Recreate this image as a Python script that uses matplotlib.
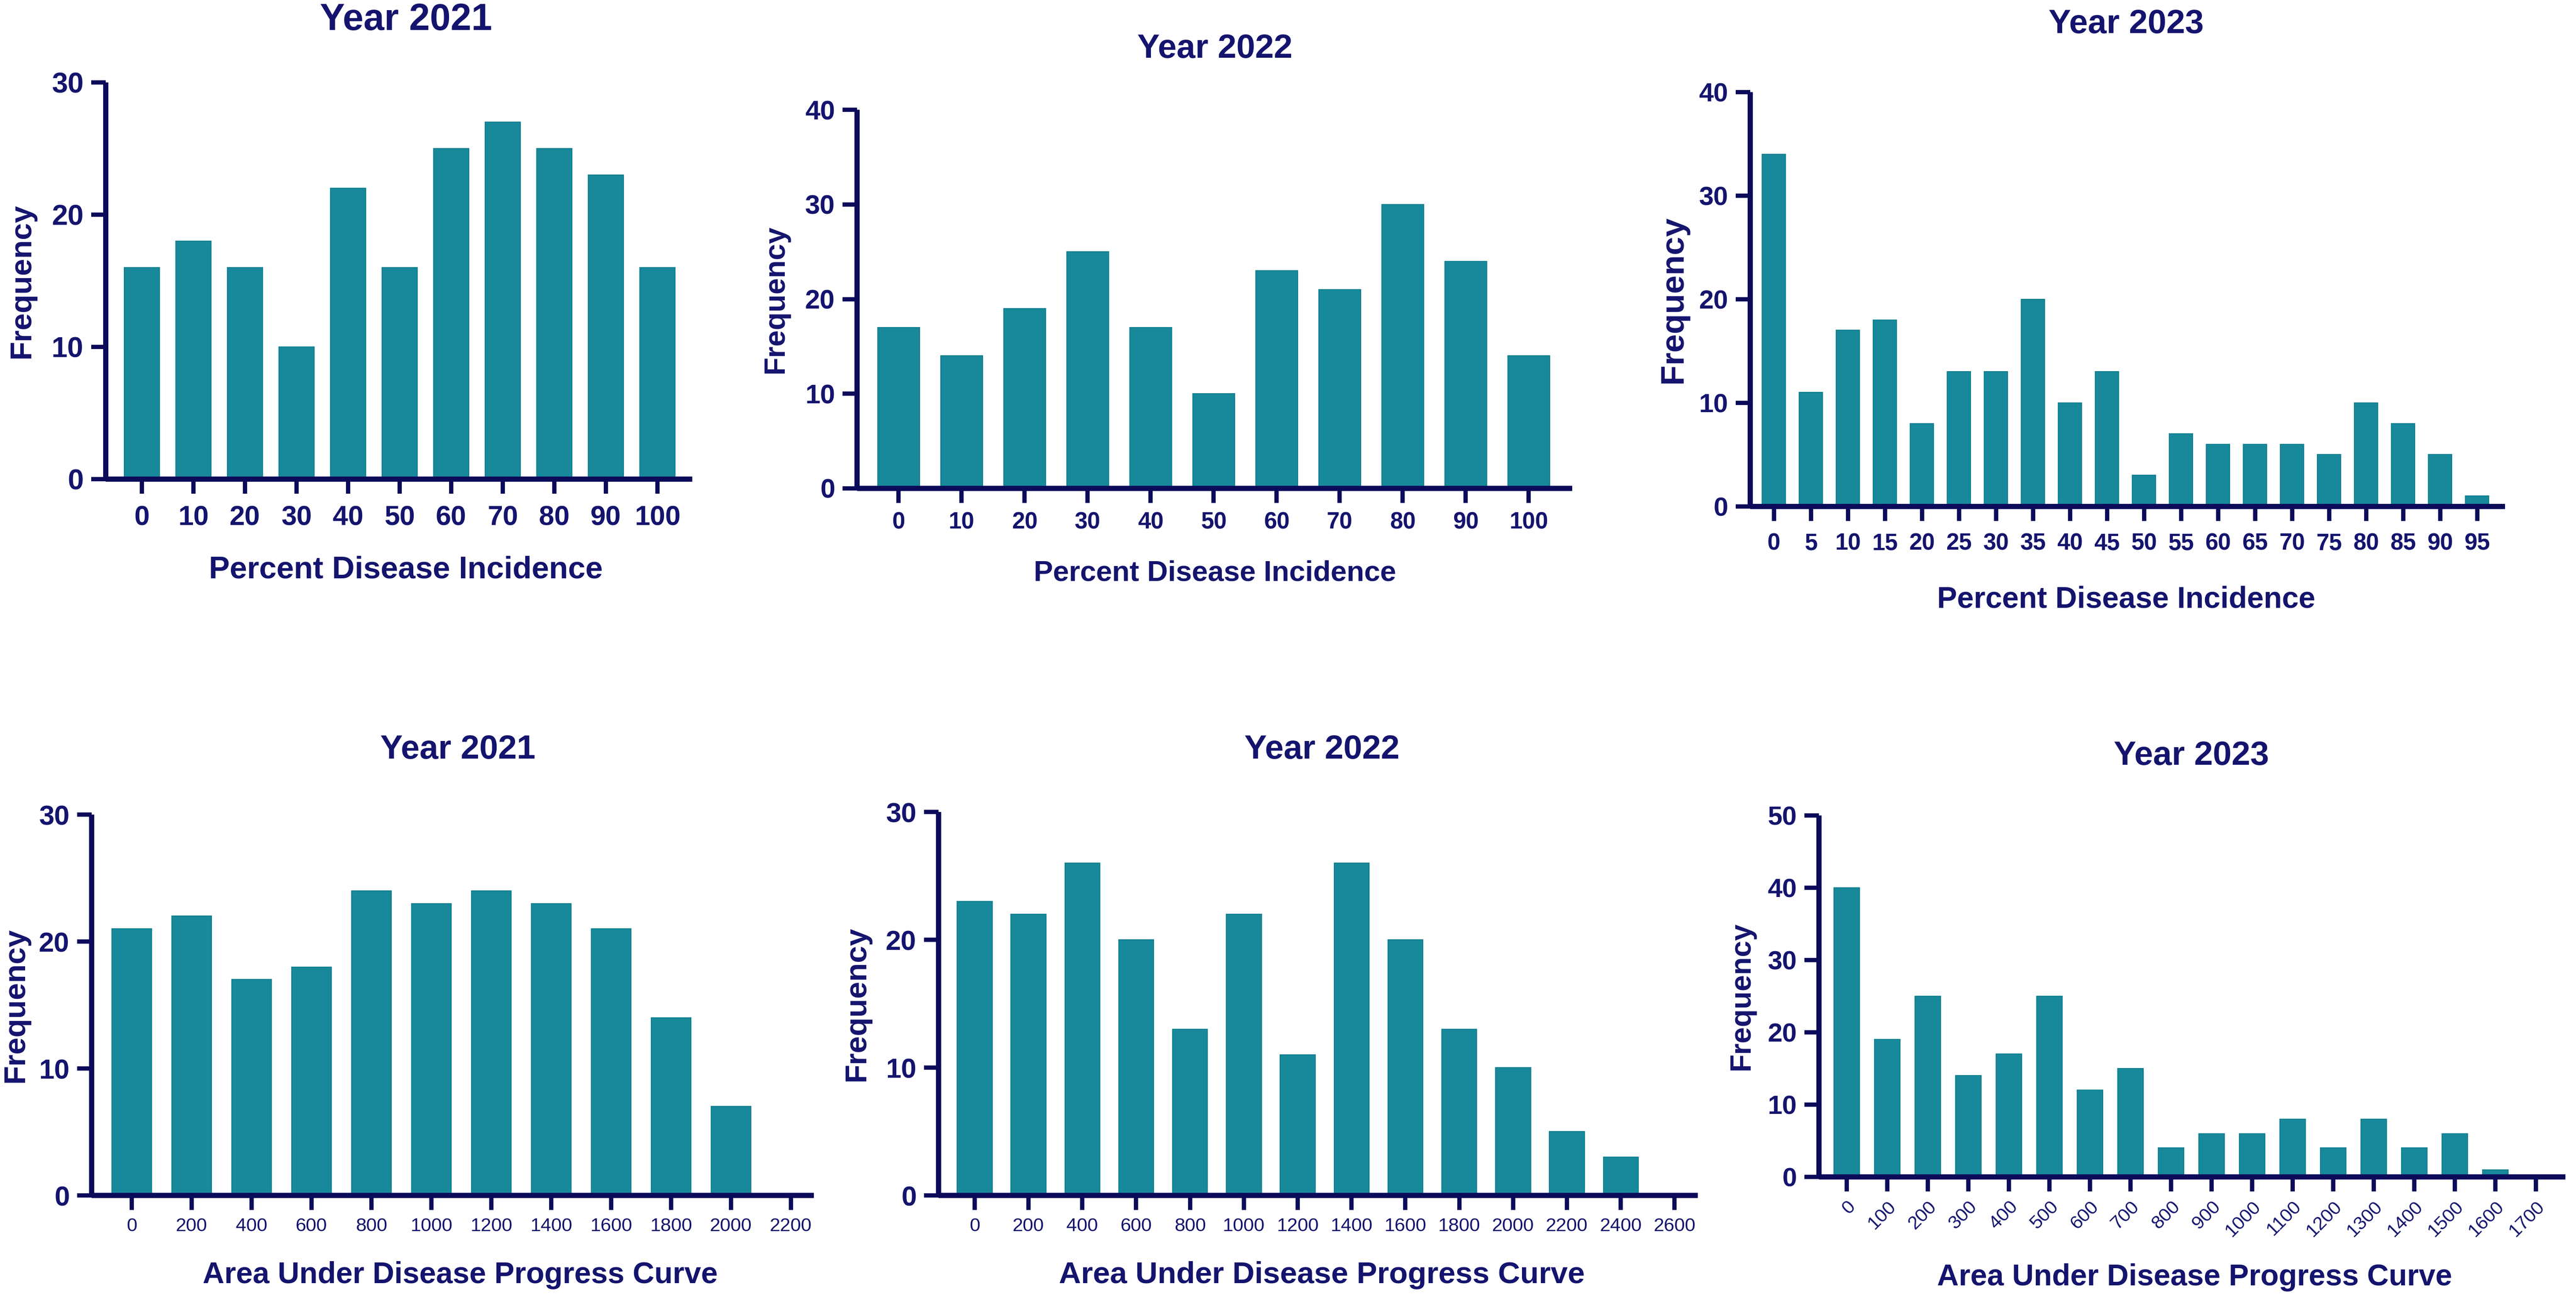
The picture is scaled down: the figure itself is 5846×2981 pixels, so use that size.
import numpy as np
import matplotlib.pyplot as plt

# --- data ---
pdi_bins_2021 = [0, 10, 20, 30, 40, 50, 60, 70, 80, 90, 100]
pdi_freq_2021 = [16, 18, 16, 10, 22, 16, 25, 27, 25, 23, 16]

pdi_bins_2022 = [0, 10, 20, 30, 40, 50, 60, 70, 80, 90, 100]
pdi_freq_2022 = [17, 14, 19, 25, 17, 10, 23, 21, 30, 24, 14]

pdi_bins_2023 = list(range(0, 100, 5))
pdi_freq_2023 = [34, 11, 17, 18, 8, 13, 13, 20, 10, 13, 3, 7, 6, 6, 6, 5, 10, 8, 5, 1]

audpc_bins_2021 = list(range(0, 2400, 200))
audpc_freq_2021 = [21, 22, 17, 18, 24, 23, 24, 23, 21, 14, 7, 0]

audpc_bins_2022 = list(range(0, 2800, 200))
audpc_freq_2022 = [23, 22, 26, 20, 13, 22, 11, 26, 20, 13, 10, 5, 3, 0]

audpc_bins_2023 = list(range(0, 1800, 100))
audpc_freq_2023 = [40, 19, 25, 14, 17, 25, 12, 15, 4, 6, 6, 8, 4, 8, 4, 6, 1, 0]

years = ["Year 2021", "Year 2022", "Year 2023"]
pdi_label = "Percent Disease Incidence"
audpc_label = "Area Under Disease Progress Curve"

W, H = 5846, 2981
fig = plt.figure(figsize=(W / 100, H / 100), dpi=100)

text_col = '#14146e'
axis_col = '#0b0b5a'
bar_col = '#17899a'
FONT = ['Liberation Sans', 'DejaVu Sans']
NARROW = ['Liberation Sans Narrow', 'Liberation Sans', 'DejaVu Sans']

# layout in pixels: left, bottom(from top), spacing, xlim, ytop, height
panels = [
    dict(bins=pdi_bins_2021, freq=pdi_freq_2021, title=years[0], xlabel=pdi_label,
         left=240, bottom=1087, sp=117, xlim=(-0.70, 10.68), ytop=30, height=900, bw=0.69,
         title_xy=(921, 46), xlab_xy=(921, 1293), ylab_x=49,
         fs=dict(title=61, xlab=51, ylab=50, yt=47, xt=45), xpad=18, xfont=FONT, xw='bold', rot=0),
    dict(bins=pdi_bins_2022, freq=pdi_freq_2022, title=years[1], xlabel=pdi_label,
         left=1945, bottom=1108, sp=143, xlim=(-0.66, 10.69), ytop=40, height=859, bw=0.66,
         title_xy=(2757, 111), xlab_xy=(2757, 1300), ylab_x=1760,
         fs=dict(title=55, xlab=47, ylab=48, yt=44, xt=38), xpad=14, xfont=NARROW, xw='bold', rot=0),
    dict(bins=pdi_bins_2023, freq=pdi_freq_2023, title=years[2], xlabel=pdi_label,
         left=3972, bottom=1149, sp=84, xlim=(-0.64, 19.75), ytop=40, height=940, bw=0.63,
         title_xy=(4825, 56), xlab_xy=(4825, 1361), ylab_x=3797,
         fs=dict(title=55, xlab=49, ylab=54, yt=43, xt=38), xpad=19, xfont=NARROW, xw='bold', rot=0),
    dict(bins=audpc_bins_2021, freq=audpc_freq_2021, title=years[0], xlabel=audpc_label,
         left=208, bottom=2712, sp=136, xlim=(-0.67, 11.38), ytop=30, height=864, bw=0.66,
         title_xy=(1039, 1701), xlab_xy=(1044, 2893), ylab_x=35,
         fs=dict(title=55, xlab=49, ylab=50, yt=45, xt=31), xpad=12, xfont=NARROW, xw='normal', rot=0),
    dict(bins=audpc_bins_2022, freq=audpc_freq_2022, title=years[1], xlabel=audpc_label,
         left=2130, bottom=2712, sp=122.2, xlim=(-0.67, 13.43), ytop=30, height=870, bw=0.65,
         title_xy=(3000, 1701), xlab_xy=(3000, 2893), ylab_x=1944,
         fs=dict(title=55, xlab=50, ylab=50, yt=45, xt=31), xpad=12, xfont=NARROW, xw='normal', rot=0),
    dict(bins=audpc_bins_2023, freq=audpc_freq_2023, title=years[2], xlabel=audpc_label,
         left=4128, bottom=2670, sp=92, xlim=(-0.68, 17.73), ytop=50, height=820, bw=0.63,
         title_xy=(4973, 1715), xlab_xy=(4980, 2898), ylab_x=3952,
         fs=dict(title=55, xlab=49, ylab=48, yt=43, xt=31), xpad=10, xfont=NARROW, xw='normal', rot=45),
]

for p in panels:
    width = (p['xlim'][1] - p['xlim'][0]) * p['sp']
    ax = fig.add_axes([p['left'] / W, 1 - p['bottom'] / H, width / W, p['height'] / H])
    x = np.arange(len(p['bins']))
    ax.bar(x, p['freq'], width=p['bw'], color=bar_col, edgecolor='#12808f', linewidth=1.5, zorder=2)
    ax.set_xlim(*p['xlim'])
    ax.set_ylim(0, p['ytop'])
    ax.set_yticks(np.arange(0, p['ytop'] + 1, 10))
    ax.set_xticks(x)
    if p['rot']:
        ax.set_xticklabels([str(b) for b in p['bins']], rotation=45, ha='right',
                           rotation_mode='anchor')
    else:
        ax.set_xticklabels([str(b) for b in p['bins']])
    for s in ['top', 'right']:
        ax.spines[s].set_visible(False)
    for s in ['left', 'bottom']:
        ax.spines[s].set_linewidth(8.5)
        ax.spines[s].set_color(axis_col)
        ax.spines[s].set_capstyle('butt')
    ax.tick_params(axis='both', length=24, width=7, color=axis_col, direction='out')
    ax.tick_params(axis='y', pad=12)
    ax.tick_params(axis='x', pad=p['xpad'])
    for t in ax.get_yticklabels():
        t.set_fontfamily(NARROW if p['xfont'] is NARROW else FONT)
        t.set_fontweight('bold')
        t.set_fontsize(p['fs']['yt'])
        t.set_color(text_col)
    for t in ax.get_xticklabels():
        t.set_fontfamily(p['xfont'])
        t.set_fontweight(p['xw'])
        t.set_fontsize(p['fs']['xt'])
        t.set_color(text_col)

    top_px = p['bottom'] - p['height']
    fig.text(p['title_xy'][0] / W, 1 - p['title_xy'][1] / H, p['title'], ha='center', va='center',
             fontsize=p['fs']['title'], fontweight='bold', color=text_col, family=FONT)
    fig.text(p['xlab_xy'][0] / W, 1 - p['xlab_xy'][1] / H, p['xlabel'], ha='center', va='center',
             fontsize=p['fs']['xlab'], fontweight='bold', color=text_col, family=FONT)
    fig.text(p['ylab_x'] / W, 1 - (top_px + p['height'] / 2) / H, "Frequency", ha='center',
             va='center', rotation=90, fontsize=p['fs']['ylab'], fontweight='bold',
             color=text_col, family=FONT)

fig.savefig('out.png', dpi=100, facecolor='white')
